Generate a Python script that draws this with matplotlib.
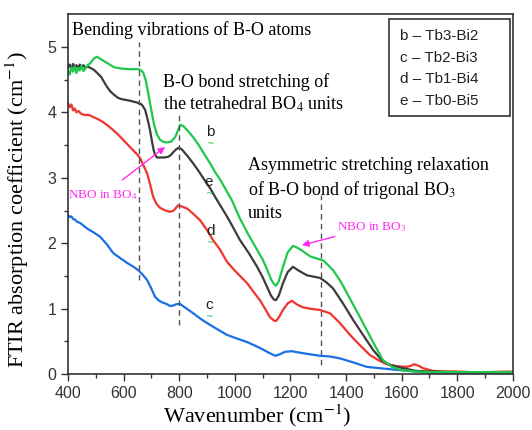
import numpy as np
import matplotlib
matplotlib.use('Agg')
import matplotlib.pyplot as plt
from matplotlib.patches import Rectangle

plt.rcParams['mathtext.fontset'] = 'stix'

# b - Tb3-Bi2 (green)
wn_b = [400, 406, 412, 418, 424, 430, 436, 442, 448, 455, 462, 470, 480, 492, 504, 515, 530, 550, 565, 590,
        620, 648, 660, 670, 680, 690, 700, 710, 720, 731, 742, 755, 770, 785, 795, 803, 815, 830, 850, 870,
        890, 911, 930, 950, 970, 990, 1018, 1050, 1080, 1100, 1116, 1130, 1140, 1148, 1158, 1173, 1190, 1209, 1225, 1241,
        1270, 1300, 1320, 1353, 1380, 1403, 1450, 1497, 1533, 1565, 1600, 1650, 1700, 1800, 1900, 2000]
ab_b = [4.63, 4.58, 4.69, 4.62, 4.70, 4.60, 4.68, 4.64, 4.71, 4.63, 4.67, 4.72, 4.75, 4.82, 4.85, 4.82, 4.78, 4.73, 4.69, 4.67,
        4.66, 4.66, 4.65, 4.61, 4.48, 4.25, 4.02, 3.80, 3.66, 3.58, 3.55, 3.54, 3.55, 3.62, 3.72, 3.81, 3.79, 3.72, 3.62, 3.50,
        3.36, 3.22, 3.08, 2.95, 2.80, 2.65, 2.38, 2.12, 1.90, 1.75, 1.60, 1.45, 1.38, 1.35, 1.42, 1.64, 1.86, 1.96, 1.93, 1.89,
        1.80, 1.76, 1.73, 1.59, 1.42, 1.24, 0.87, 0.49, 0.21, 0.11, 0.06, 0.04, 0.03, 0.03, 0.03, 0.03]

# e - Tb0-Bi5 (dark grey)
wn_e = [400, 406, 412, 418, 424, 430, 436, 442, 448, 455, 462, 470, 480, 493, 505, 519, 530, 540, 552, 565,
        580, 594, 620, 648, 665, 677, 688, 695, 702, 708, 713, 720, 731, 745, 760, 770, 778, 790, 799, 810,
        830, 850, 870, 890, 911, 930, 950, 970, 990, 1018, 1050, 1080, 1100, 1116, 1130, 1140, 1148, 1158, 1173, 1190,
        1209, 1230, 1259, 1306, 1330, 1353, 1389, 1425, 1461, 1497, 1529, 1558, 1605, 1650, 1700, 1800, 1900, 2000]
ab_e = [4.68, 4.73, 4.66, 4.74, 4.69, 4.72, 4.67, 4.73, 4.70, 4.72, 4.68, 4.70, 4.68, 4.65, 4.60, 4.54, 4.46, 4.39, 4.32, 4.27,
        4.22, 4.20, 4.18, 4.15, 4.12, 4.04, 3.86, 3.72, 3.55, 3.42, 3.35, 3.31, 3.31, 3.31, 3.32, 3.35, 3.39, 3.44, 3.46, 3.43,
        3.33, 3.22, 3.10, 2.97, 2.84, 2.70, 2.56, 2.42, 2.27, 2.05, 1.85, 1.64, 1.48, 1.33, 1.20, 1.14, 1.13, 1.20, 1.39, 1.56,
        1.64, 1.58, 1.51, 1.47, 1.40, 1.31, 1.08, 0.83, 0.60, 0.37, 0.21, 0.14, 0.09, 0.05, 0.04, 0.03, 0.03, 0.03]

# d - Tb1-Bi4 (red)
wn_d = [400, 406, 412, 418, 424, 430, 438, 446, 458, 475, 490, 510, 526, 545, 562, 580, 598, 616, 634, 650,
        659, 670, 684, 695, 706, 718, 731, 750, 767, 780, 790, 796, 810, 828, 850, 875, 900, 921, 947, 971,
        1000, 1044, 1070, 1090, 1110, 1126, 1140, 1148, 1160, 1173, 1190, 1205, 1225, 1245, 1270, 1306, 1342, 1378, 1414, 1450,
        1486, 1522, 1547, 1583, 1619, 1635, 1645, 1660, 1677, 1712, 1750, 1800, 1850, 1900, 1990, 2000]
ab_d = [4.14, 4.08, 4.12, 4.03, 4.06, 4.00, 4.02, 3.98, 3.96, 3.96, 3.93, 3.89, 3.85, 3.79, 3.73, 3.66, 3.58, 3.50, 3.42, 3.35,
        3.30, 3.20, 3.07, 2.90, 2.71, 2.60, 2.54, 2.50, 2.48, 2.50, 2.55, 2.58, 2.56, 2.53, 2.45, 2.35, 2.20, 2.05, 1.90, 1.72,
        1.58, 1.39, 1.24, 1.13, 0.99, 0.87, 0.82, 0.81, 0.88, 0.98, 1.08, 1.12, 1.06, 1.02, 1.00, 0.98, 0.93, 0.78, 0.60, 0.44,
        0.29, 0.20, 0.15, 0.12, 0.11, 0.13, 0.15, 0.13, 0.09, 0.05, 0.04, 0.04, 0.03, 0.03, 0.04, 0.03]

# c - Tb2-Bi3 (blue)
wn_c = [400, 406, 412, 418, 425, 432, 443, 455, 470, 490, 515, 540, 562, 585, 612, 635, 652, 668, 684, 698,
        713, 728, 742, 755, 767, 780, 790, 803, 820, 850, 875, 900, 935, 971, 1010, 1044, 1090, 1116, 1130, 1145,
        1160, 1180, 1205, 1230, 1259, 1306, 1340, 1378, 1425, 1475, 1522, 1594, 1650, 1702, 1800, 1900, 2000]
ab_c = [2.43, 2.40, 2.41, 2.37, 2.36, 2.33, 2.31, 2.27, 2.22, 2.17, 2.10, 1.98, 1.85, 1.78, 1.70, 1.64, 1.59, 1.52, 1.44, 1.32,
        1.18, 1.12, 1.09, 1.07, 1.04, 1.05, 1.07, 1.07, 1.02, 0.93, 0.85, 0.78, 0.69, 0.60, 0.54, 0.49, 0.40, 0.34, 0.31, 0.28,
        0.30, 0.34, 0.35, 0.33, 0.31, 0.28, 0.27, 0.24, 0.18, 0.11, 0.09, 0.06, 0.04, 0.02, 0.02, 0.02, 0.02]

legend_lines = ['b \u2013 Tb3-Bi2', 'c \u2013 Tb2-Bi3', 'd \u2013 Tb1-Bi4', 'e \u2013 Tb0-Bi5']
# dashed guide lines: position, bottom, top
guides = [(655, 1.44, 5.08), (800, 0.75, 4.0), (1310, 0.14, 2.74)]

serif = 'Liberation Serif'
sans = 'Liberation Sans'
c_green = '#1fc84c'
c_black = '#3c3c3c'
c_red = '#f0352c'
c_blue = '#1a6fe6'
c_mag = '#ff2cf0'

fig = plt.figure(figsize=(5.32, 4.30), dpi=100)
ax = fig.add_axes([0.128, 0.130, 0.836, 0.837])

ax.plot(wn_c, ab_c, color=c_blue, lw=1.6)
ax.plot(wn_d, ab_d, color=c_red, lw=1.6)
ax.plot(wn_e, ab_e, color=c_black, lw=1.6)
ax.plot(wn_b, ab_b, color=c_green, lw=1.6)

for x, y0, y1 in guides:
    ax.plot([x, x], [y0, y1], color='#555555', lw=1, ls=(0, (4, 3)))

ax.set_xlim(400, 2000)
ax.set_ylim(0, 5.5)
ax.set_xticks(range(400, 2001, 200))
ax.set_xticks(range(500, 2000, 200), minor=True)
ax.set_yticks([0, 1, 2, 3, 4, 5])
ax.set_yticks([0.5, 1.5, 2.5, 3.5, 4.5], minor=True)
ax.tick_params(which='major', direction='out', length=5, width=1, labelsize=11.5, colors='#333333')
ax.tick_params(which='minor', direction='out', length=3, width=1, colors='#333333')
for lab in ax.get_xticklabels() + ax.get_yticklabels():
    lab.set_fontfamily(sans)
for s in ax.spines.values():
    s.set_color('#333333')
    s.set_linewidth(1.2)

ax.set_xlabel('Wavenumber (cm$^{-1}$)', family=serif, fontsize=16)
ax.xaxis.set_label_coords(0.425, -0.078)
ax.set_ylabel('FTIR absorption coefficient (cm$^{-1}$)', family=serif, fontsize=16)
ax.yaxis.set_label_coords(-0.083, 0.456)

ax.text(414, 5.26, 'Bending vibrations of B-O atoms', family=serif, fontsize=13, va='center')
ax.text(742, 4.60, 'B-O bond stretching of\nthe tetrahedral BO$_4$ units', family=serif, fontsize=13,
        va='top', linespacing=1.25)
ax.text(1047, 3.31, 'Asymmetric stretching relaxation\nof B-O bond of trigonal BO$_3$', family=serif,
        fontsize=13, va='top', linespacing=1.3)
ax.text(1047, 2.46, 'units', family=serif, fontsize=13, va='center')

ax.annotate('NBO in BO$_4$', xy=(749, 3.47), xytext=(526, 2.74), family=serif, fontsize=9.5, color=c_mag,
            ha='center', va='center',
            arrowprops=dict(arrowstyle='-|>', color=c_mag, lw=1, shrinkA=6, shrinkB=0, mutation_scale=10))
ax.annotate('NBO in BO$_3$', xy=(1241, 1.97), xytext=(1368, 2.25), family=serif, fontsize=9.5, color=c_mag,
            ha='left', va='center',
            arrowprops=dict(arrowstyle='-|>', color=c_mag, lw=1, shrinkA=0, shrinkB=0, mutation_scale=10))

for lab, x, y in [('b', 911, 3.70), ('e', 907, 2.94), ('d', 911, 2.19), ('c', 907, 1.06)]:
    ax.text(x, y, lab, family=sans, fontsize=11, ha='center', va='center', color='#222222')
    ax.annotate('~', xy=(x, y), xytext=(0, -8.5), textcoords='offset points', family='DejaVu Sans',
                fontsize=6.5, ha='center', va='center', color=c_green)

ax.add_patch(Rectangle((0.721, 0.717), 0.272, 0.269, transform=ax.transAxes, fill=False,
                       edgecolor='#333333', lw=1.2))
for i, t in enumerate(legend_lines):
    ax.text(0.746, 0.939 - i * 0.0597, t, transform=ax.transAxes, family=sans, fontsize=11,
            va='center', color='#222222')

fig.savefig('out.png', dpi=100)
